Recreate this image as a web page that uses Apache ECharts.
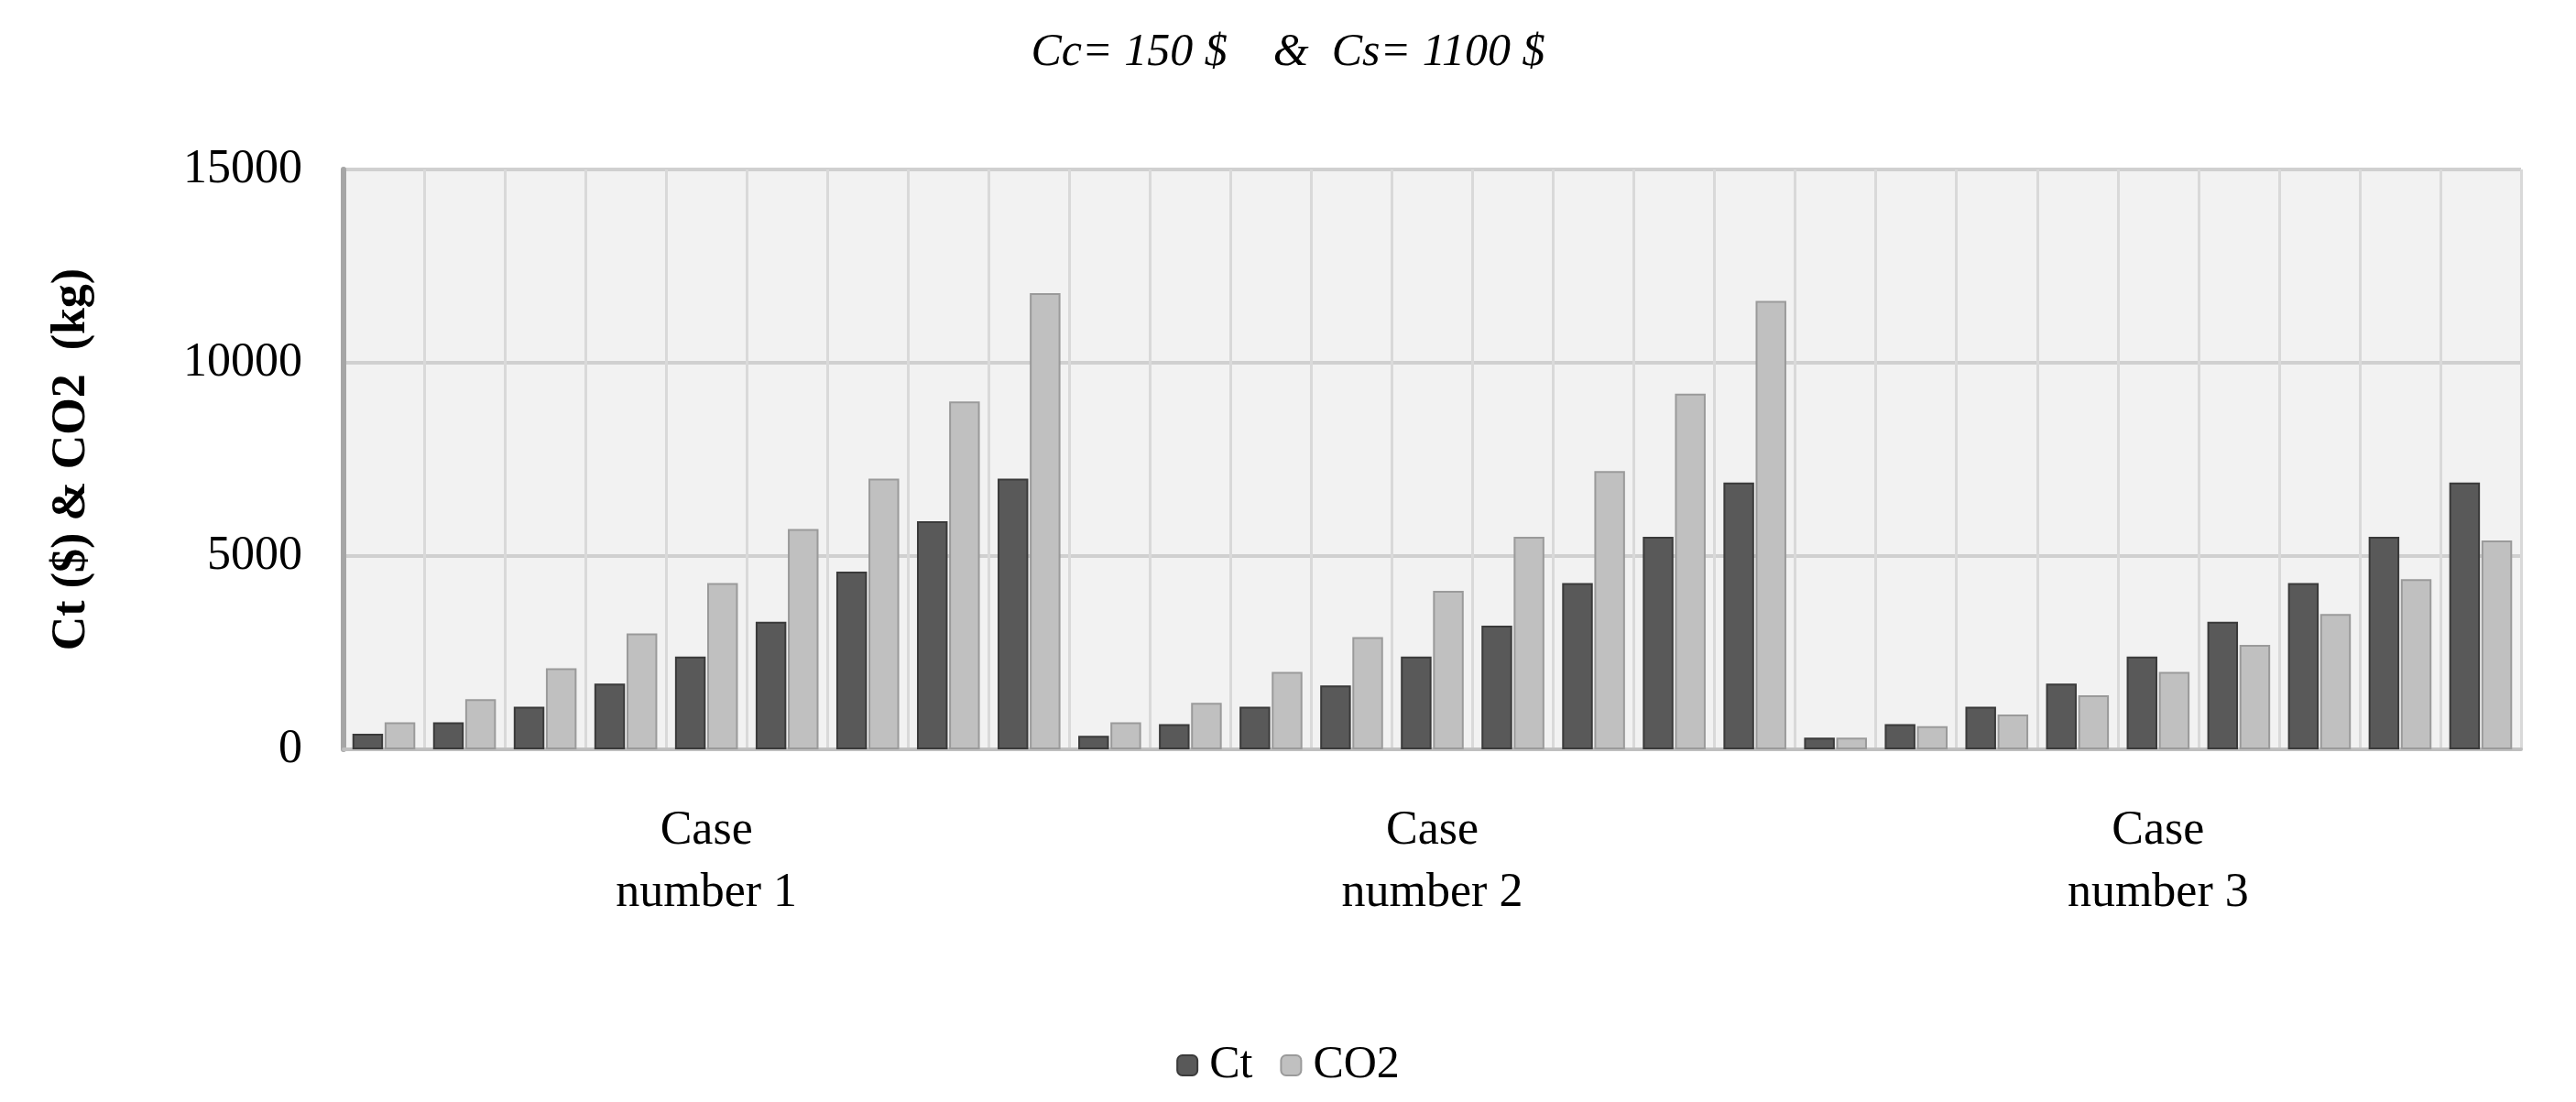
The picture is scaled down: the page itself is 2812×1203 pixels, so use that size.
<!DOCTYPE html>
<html>
<head>
<meta charset="utf-8">
<script src="https://cdn.jsdelivr.net/npm/echarts@6/dist/echarts.min.js"></script>
<style>
  html, body { margin: 0; padding: 0; background: #fff; }
  #chart { width: 2812px; height: 1203px; }
</style>
</head>
<body>
<div id="chart"></div>
<script>
const CASES = ["Case\nnumber 1", "Case\nnumber 2", "Case\nnumber 3"];
const BARS_PER_CASE = 9;
const CT_CASE1 = [400, 700, 1100, 1700, 2400, 3300, 4600, 5900, 7000];
const CT_CASE2 = [350, 650, 1100, 1650, 2400, 3200, 4300, 5500, 6900];
const CT_CASE3 = [300, 650, 1100, 1700, 2400, 3300, 4300, 5500, 6900];
const CO2_CASE1 = [700, 1300, 2100, 3000, 4300, 5700, 7000, 9000, 11800];
const CO2_CASE2 = [700, 1200, 2000, 2900, 4100, 5500, 7200, 9200, 11600];
const CO2_CASE3 = [300, 600, 900, 1400, 2000, 2700, 3500, 4400, 5400];

const categories = [];
CASES.forEach((c, i) => {
  for (let k = 0; k < BARS_PER_CASE; k++) categories.push(c + "#" + i + "_" + k);
});
const ctData = [...CT_CASE1, ...CT_CASE2, ...CT_CASE3];
const co2Data = [...CO2_CASE1, ...CO2_CASE2, ...CO2_CASE3];

const FONT = "Liberation Serif";
const chart = echarts.init(document.getElementById("chart"));
chart.setOption({
  animation: false,
  textStyle: { fontFamily: FONT },
  title: {
    text: "Cc= 150 $    &  Cs= 1100 $",
    left: "center",
    top: 28,
    textStyle: { fontFamily: FONT, fontStyle: "italic", fontWeight: "normal", fontSize: 50, color: "#000" },
  },
  legend: {
    bottom: 10,
    left: "center",
    itemWidth: 22,
    itemHeight: 22,
    itemGap: 30,
    textStyle: { fontFamily: FONT, fontSize: 50, color: "#000", padding: [0, 0, 0, 8] },
    data: ["Ct", "CO2"],
  },
  grid: { left: 375, right: 60, top: 185, bottom: 385, backgroundColor: "#f2f2f2", show: true, borderWidth: 0 },
  xAxis: {
    type: "category",
    data: categories,
    axisTick: { show: false },
    axisLine: { lineStyle: { color: "#bfbfbf", width: 4 } },
    splitLine: { show: true, interval: 0, lineStyle: { color: "#d9d9d9", width: 3 } },
    axisLabel: {
      interval: 0,
      margin: 55,
      fontSize: 52,
      lineHeight: 68,
      color: "#000",
      formatter: (v, idx) => (idx % BARS_PER_CASE === 4 ? v.split("#")[0] : ""),
    },
  },
  yAxis: {
    type: "value",
    min: 0,
    max: 15000,
    interval: 5000,
    name: "Ct ($) & CO2  (kg)",
    nameLocation: "middle",
    nameGap: 270,
    nameTextStyle: { fontFamily: FONT, fontWeight: "bold", fontSize: 52, color: "#000" },
    axisLine: { show: true, lineStyle: { color: "#a6a6a6", width: 6 } },
    axisLabel: { fontSize: 52, color: "#000", margin: 45, formatter: (v) => String(v) },
    splitLine: { lineStyle: { color: "#d0d0d0", width: 4 } },
  },
  series: [
    {
      name: "Ct",
      type: "bar",
      data: ctData,
      barWidth: "38%",
      barGap: "5%",
      itemStyle: { color: "#595959", borderColor: "#3a3a3a", borderWidth: 2 },
    },
    {
      name: "CO2",
      type: "bar",
      data: co2Data,
      barWidth: "38%",
      itemStyle: { color: "#c0c0c0", borderColor: "#9a9a9a", borderWidth: 2 },
    },
  ],
});
</script>
</body>
</html>
